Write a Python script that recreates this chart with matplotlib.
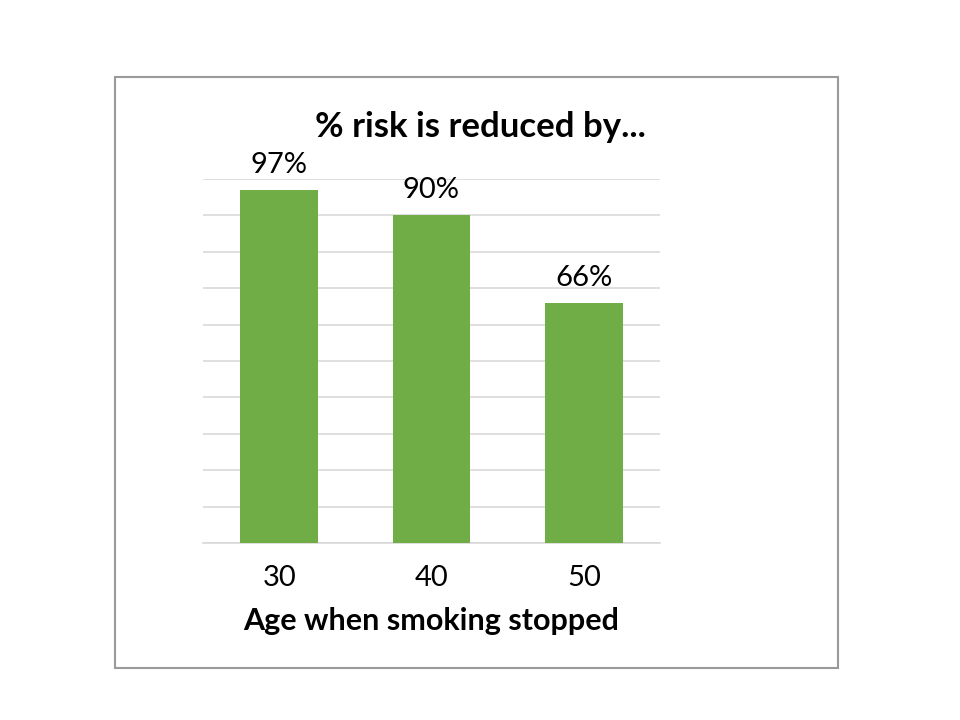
import matplotlib
matplotlib.use("Agg")
import matplotlib.pyplot as plt
from matplotlib.patches import Rectangle

categories = ["30", "40", "50"]
values = [97, 90, 66]
labels = ["97%", "90%", "66%"]

plt.rcParams['font.family'] = ['Lato', 'DejaVu Sans']

fig = plt.figure(figsize=(9.6, 7.2), dpi=100)
fig.patches.append(Rectangle((115/960, 1-668/720), (838-115)/960, (668-77)/720,
                             transform=fig.transFigure, fill=False,
                             edgecolor='#9a9a9a', linewidth=1.5))

ax = fig.add_axes([203/960, 1-543/720, (660-203)/960, (543-179)/720])
x = range(len(categories))
ax.bar(x, values, width=0.51, color='#70AD47', zorder=3)
ax.set_xlim(-0.5, 2.5)
ax.set_ylim(0, 100)
ax.set_yticks(range(0, 101, 10))
ax.yaxis.grid(True, color='#d9d9d9', linewidth=1.2, zorder=0)
ax.tick_params(axis='y', left=False, labelleft=False)
ax.tick_params(axis='x', bottom=False, labelsize=21, pad=12)
ax.set_xticks(list(x))
ax.set_xticklabels(categories)
for s in ['top', 'right', 'left']:
    ax.spines[s].set_visible(False)
ax.spines['bottom'].set_color('#d9d9d9')
ax.spines['bottom'].set_linewidth(1.2)
for i, (v, l) in enumerate(zip(values, labels)):
    ax.text(i, v + 3.3, l, ha='center', va='bottom', fontsize=21)

fig.text(480/960, 1-127/720, "% risk is reduced by...", ha='center', va='center',
         fontsize=25, fontweight='bold')
ax.set_xlabel("Age when smoking stopped", fontsize=22, fontweight='bold', labelpad=12)

fig.savefig("out.png", dpi=100)
